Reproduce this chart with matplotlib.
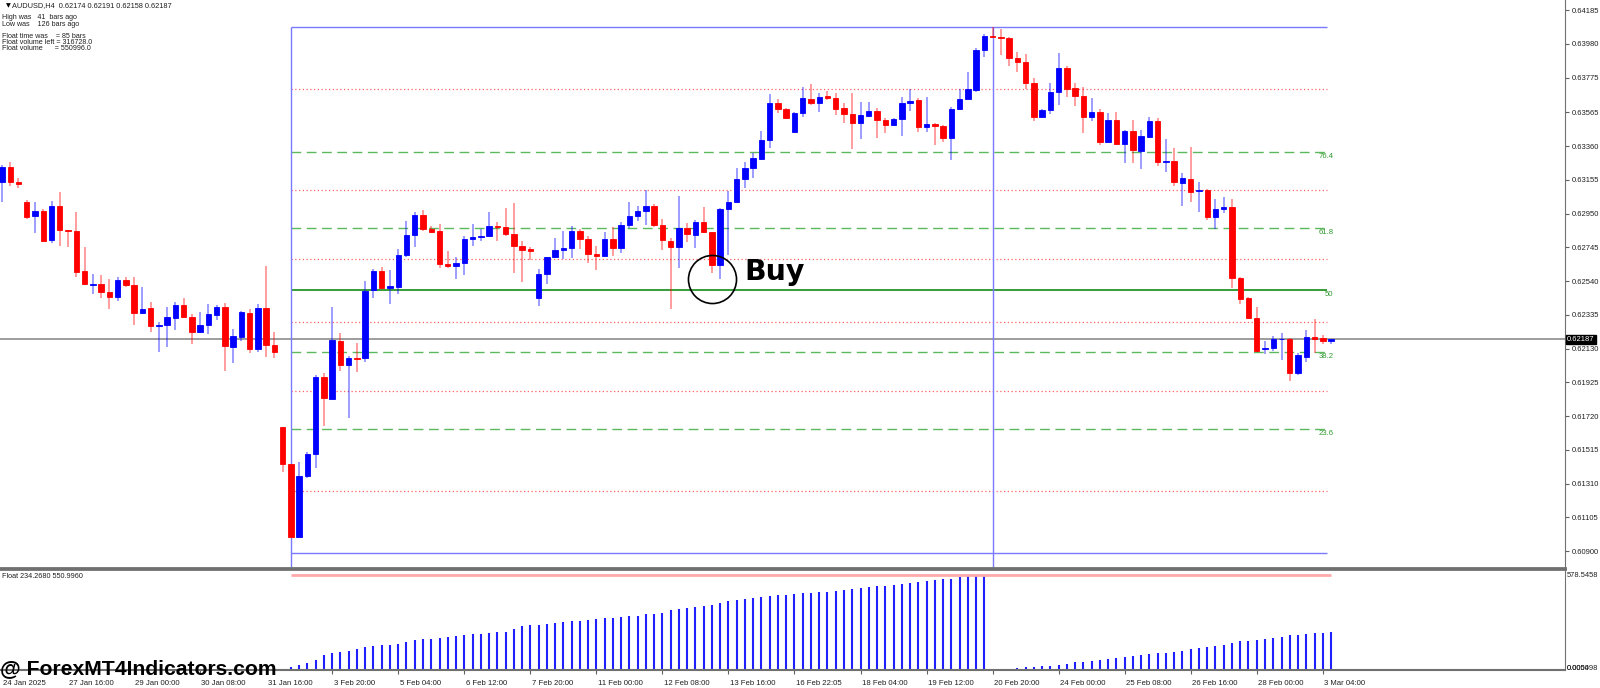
import matplotlib
matplotlib.use('Agg')
import matplotlib.pyplot as plt
from matplotlib.transforms import blended_transform_factory, ScaledTranslation

plt.rcParams['font.family'] = ['Liberation Sans', 'DejaVu Sans']

# ---- candle data (AUDUSD H4) ----
opens = [0.63140, 0.63235, 0.63140, 0.63018, 0.62935, 0.62966, 0.62787, 0.62996, 0.62850, 0.62844,
         0.62601, 0.62518, 0.62524, 0.62474, 0.62441, 0.62545, 0.62518, 0.62344, 0.62375, 0.62267,
         0.62275, 0.62316, 0.62395, 0.62324, 0.62231, 0.62271, 0.62336, 0.62383, 0.62142, 0.62203,
         0.62346, 0.62130, 0.62377, 0.62154, 0.61652, 0.61427, 0.60988, 0.61359, 0.61488, 0.61956,
         0.61827, 0.62177, 0.62031, 0.62075, 0.62071, 0.62486, 0.62604, 0.62501, 0.62505, 0.62701,
         0.62822, 0.62940, 0.62857, 0.62843, 0.62646, 0.62630, 0.62648, 0.62798, 0.62808, 0.62812,
         0.62875, 0.62871, 0.62826, 0.62754, 0.62733, 0.62436, 0.62584, 0.62685, 0.62729, 0.62739,
         0.62843, 0.62796, 0.62705, 0.62695, 0.62798, 0.62741, 0.62881, 0.62936, 0.62968, 0.62996,
         0.62883, 0.62786, 0.62750, 0.62865, 0.62821, 0.62899, 0.62839, 0.62638, 0.62976, 0.63019,
         0.63163, 0.63229, 0.63282, 0.63395, 0.63624, 0.63584, 0.63444, 0.63563, 0.63646, 0.63624,
         0.63665, 0.63650, 0.63590, 0.63553, 0.63499, 0.63545, 0.63573, 0.63519, 0.63490, 0.63525,
         0.63624, 0.63640, 0.63478, 0.63492, 0.63484, 0.63407, 0.63588, 0.63646, 0.63701, 0.63944,
         0.64031, 0.64025, 0.64015, 0.63897, 0.63871, 0.63745, 0.63539, 0.63580, 0.63691, 0.63833,
         0.63713, 0.63667, 0.63539, 0.63569, 0.63383, 0.63519, 0.63373, 0.63452, 0.63333, 0.63418,
         0.63515, 0.63264, 0.63270, 0.63138, 0.63161, 0.63086, 0.63094, 0.62932, 0.62976, 0.62993,
         0.62557, 0.62436, 0.62319, 0.62126, 0.62132, 0.62187, 0.62187, 0.61981, 0.62082, 0.62199,
         0.62195, 0.62174]
highs = [0.63245, 0.63265, 0.63164, 0.63032, 0.63022, 0.62976, 0.63028, 0.63079, 0.62850, 0.62962,
         0.62745, 0.62583, 0.62577, 0.62551, 0.62563, 0.62565, 0.62563, 0.62502, 0.62411, 0.62294,
         0.62385, 0.62411, 0.62437, 0.62338, 0.62350, 0.62399, 0.62395, 0.62405, 0.62249, 0.62358,
         0.62373, 0.62401, 0.62630, 0.62231, 0.61652, 0.61427, 0.61440, 0.61502, 0.61970, 0.61980,
         0.62381, 0.62223, 0.62086, 0.62165, 0.62541, 0.62616, 0.62624, 0.62608, 0.62733, 0.62905,
         0.62962, 0.62970, 0.62877, 0.62885, 0.62723, 0.62685, 0.62812, 0.62885, 0.62859, 0.62960,
         0.62899, 0.62982, 0.63013, 0.62786, 0.62747, 0.62612, 0.62689, 0.62802, 0.62845, 0.62875,
         0.62857, 0.62816, 0.62754, 0.62839, 0.62871, 0.62899, 0.63021, 0.62996, 0.63094, 0.63009,
         0.62916, 0.62800, 0.63059, 0.62895, 0.62912, 0.62989, 0.62839, 0.62982, 0.63088, 0.63229,
         0.63266, 0.63316, 0.63452, 0.63677, 0.63644, 0.63594, 0.63569, 0.63717, 0.63737, 0.63681,
         0.63695, 0.63685, 0.63624, 0.63681, 0.63630, 0.63626, 0.63594, 0.63533, 0.63533, 0.63660,
         0.63705, 0.63650, 0.63656, 0.63499, 0.63488, 0.63596, 0.63705, 0.63808, 0.63954, 0.64041,
         0.64081, 0.64070, 0.64025, 0.63930, 0.63920, 0.63772, 0.63586, 0.63741, 0.63924, 0.63847,
         0.63741, 0.63717, 0.63650, 0.63584, 0.63563, 0.63569, 0.63458, 0.63519, 0.63458, 0.63539,
         0.63529, 0.63401, 0.63347, 0.63195, 0.63357, 0.63144, 0.63098, 0.63039, 0.63049, 0.63039,
         0.62568, 0.62446, 0.62381, 0.62179, 0.62207, 0.62223, 0.62193, 0.62102, 0.62244, 0.62308,
         0.62215, 0.62191]
lows = [0.63022, 0.63119, 0.63107, 0.62915, 0.62830, 0.62781, 0.62769, 0.62753, 0.62749, 0.62567,
        0.62516, 0.62462, 0.62435, 0.62369, 0.62421, 0.62506, 0.62271, 0.62338, 0.62233, 0.62107,
        0.62138, 0.62243, 0.62316, 0.62156, 0.62227, 0.62217, 0.62304, 0.61996, 0.62045, 0.62178,
        0.62105, 0.62107, 0.62081, 0.62075, 0.61383, 0.60985, 0.60982, 0.61346, 0.61407, 0.61660,
        0.61822, 0.61997, 0.61711, 0.61986, 0.62051, 0.62438, 0.62494, 0.62403, 0.62460, 0.62689,
        0.62749, 0.62845, 0.62837, 0.62622, 0.62618, 0.62555, 0.62575, 0.62754, 0.62786, 0.62806,
        0.62786, 0.62816, 0.62588, 0.62537, 0.62669, 0.62389, 0.62525, 0.62683, 0.62675, 0.62683,
        0.62737, 0.62648, 0.62606, 0.62693, 0.62695, 0.62713, 0.62861, 0.62905, 0.62881, 0.62867,
        0.62729, 0.62369, 0.62618, 0.62780, 0.62744, 0.62831, 0.62588, 0.62551, 0.62699, 0.63013,
        0.63104, 0.63165, 0.63276, 0.63347, 0.63563, 0.63523, 0.63442, 0.63535, 0.63608, 0.63569,
        0.63640, 0.63549, 0.63503, 0.63343, 0.63403, 0.63539, 0.63412, 0.63438, 0.63482, 0.63422,
        0.63575, 0.63448, 0.63444, 0.63367, 0.63383, 0.63276, 0.63580, 0.63644, 0.63691, 0.63903,
        0.64015, 0.63913, 0.63849, 0.63812, 0.63705, 0.63515, 0.63533, 0.63555, 0.63608, 0.63660,
        0.63604, 0.63442, 0.63513, 0.63367, 0.63377, 0.63367, 0.63260, 0.63256, 0.63221, 0.63412,
        0.63239, 0.63201, 0.63120, 0.62999, 0.63023, 0.62958, 0.62912, 0.62857, 0.62952, 0.62497,
        0.62402, 0.62310, 0.62108, 0.62096, 0.62118, 0.62062, 0.61934, 0.61970, 0.62051, 0.62102,
        0.62160, 0.62158]
closes = [0.63235, 0.63144, 0.63132, 0.62931, 0.62966, 0.62785, 0.62996, 0.62848, 0.62842, 0.62595,
          0.62520, 0.62524, 0.62476, 0.62445, 0.62547, 0.62518, 0.62344, 0.62371, 0.62265, 0.62275,
          0.62320, 0.62395, 0.62320, 0.62231, 0.62271, 0.62338, 0.62381, 0.62146, 0.62205, 0.62350,
          0.62130, 0.62377, 0.62154, 0.62107, 0.61427, 0.60988, 0.61359, 0.61488, 0.61956, 0.61828,
          0.62183, 0.62031, 0.62075, 0.62067, 0.62482, 0.62604, 0.62499, 0.62509, 0.62701, 0.62820,
          0.62940, 0.62857, 0.62841, 0.62646, 0.62630, 0.62648, 0.62798, 0.62806, 0.62814, 0.62873,
          0.62869, 0.62828, 0.62754, 0.62729, 0.62721, 0.62584, 0.62685, 0.62731, 0.62739, 0.62843,
          0.62798, 0.62703, 0.62695, 0.62798, 0.62741, 0.62881, 0.62936, 0.62968, 0.62996, 0.62881,
          0.62790, 0.62750, 0.62865, 0.62825, 0.62899, 0.62841, 0.62638, 0.62976, 0.63023, 0.63163,
          0.63229, 0.63286, 0.63395, 0.63624, 0.63584, 0.63529, 0.63563, 0.63650, 0.63624, 0.63658,
          0.63650, 0.63586, 0.63553, 0.63499, 0.63549, 0.63573, 0.63521, 0.63490, 0.63523, 0.63622,
          0.63634, 0.63478, 0.63497, 0.63482, 0.63407, 0.63588, 0.63646, 0.63707, 0.63944, 0.64031,
          0.64025, 0.64015, 0.63897, 0.63869, 0.63745, 0.63539, 0.63580, 0.63691, 0.63833, 0.63707,
          0.63665, 0.63539, 0.63569, 0.63383, 0.63519, 0.63373, 0.63452, 0.63337, 0.63422, 0.63515,
          0.63266, 0.63272, 0.63140, 0.63165, 0.63084, 0.63092, 0.62928, 0.62978, 0.62993, 0.62557,
          0.62432, 0.62319, 0.62118, 0.62132, 0.62187, 0.62191, 0.61985, 0.62092, 0.62203, 0.62187,
          0.62174, 0.62187]

# time axis labels, one every 8 bars
time_labels = ['24 Jan 2025', '27 Jan 16:00', '29 Jan 00:00', '30 Jan 08:00', '31 Jan 16:00',
               '3 Feb 20:00', '5 Feb 04:00', '6 Feb 12:00', '7 Feb 20:00', '11 Feb 00:00',
               '12 Feb 08:00', '13 Feb 16:00', '16 Feb 22:05', '18 Feb 04:00', '19 Feb 12:00',
               '20 Feb 20:00', '24 Feb 00:00', '25 Feb 08:00', '26 Feb 16:00', '28 Feb 00:00',
               '3 Mar 04:00']

price_ticks = [0.64185, 0.63980, 0.63775, 0.63565, 0.63360, 0.63155, 0.62950, 0.62745, 0.62540,
               0.62335, 0.62130, 0.61925, 0.61720, 0.61515, 0.61310, 0.61105, 0.60900]

# float indicator levels
low_bar = 35
high_bar = 120
float_high = 0.64081
float_low = 0.60890
fib_names = ['23.6', '38.2', '50', '61.8', '76.4']
fib_prices = [0.61644, 0.62108, 0.62486, 0.62861, 0.63326]
dotted_prices = [0.61266, 0.61875, 0.62294, 0.62672, 0.63093, 0.63705]
last_price = 0.62187

# float histogram (lower window), bars 35..161
float_vals = [18.3, 30.5, 42.8, 59.0, 89.6, 101.8, 109.9, 116.1, 128.3, 138.4,
              146.6, 150.7, 154.7, 160.8, 169.0, 181.2, 187.3, 191.4, 197.5, 201.6,
              207.7, 213.8, 217.9, 221.9, 228.0, 232.1, 234.1, 250.4, 268.8, 272.8,
              274.9, 278.9, 285.0, 293.2, 299.3, 301.3, 305.4, 311.5, 315.6, 319.7,
              323.7, 327.8, 331.9, 340.0, 344.1, 348.2, 364.4, 372.6, 376.7, 382.8,
              388.9, 395.0, 407.2, 419.4, 427.6, 431.6, 437.7, 447.9, 454.0, 456.1,
              458.1, 462.2, 468.3, 472.4, 476.4, 478.5, 482.5, 488.6, 494.7, 500.9,
              507.0, 511.0, 515.1, 521.2, 523.3, 529.4, 535.5, 543.6, 547.7, 553.8,
              557.9, 566.0, 572.1, 576.2, 578.5458,
              0.0,
              3.8, 3.8, 9.6, 15.4, 21.1, 25.0, 26.9, 32.6, 38.4, 46.1,
              49.9, 55.7, 61.4, 65.3, 71.0, 76.8, 86.4, 92.2, 96.0, 101.8,
              105.6, 111.4, 117.1, 130.6, 134.4, 138.2, 144.0, 149.8, 165.1, 174.7,
              178.6, 184.3, 188.2, 193.9, 203.5, 211.2, 215.0, 218.9, 226.6, 228.5,
              234.268]
float_max = 578.5458
float_min = 0.005498

n = len(opens)
xs = list(range(n))

fig = plt.figure(figsize=(16, 6.88), dpi=100)
ax = fig.add_axes([0, 1 - 568 / 688, 1565 / 1600, 568 / 688])
ax2 = fig.add_axes([0, 1 - 670 / 688, 1565 / 1600, 101 / 688])

xlim = (-0.24, 189.34)

# ---- main window ----
for i in xs:
    o, h, l, c = opens[i], highs[i], lows[i], closes[i]
    col = '#0000FF' if c >= o else '#FF0000'
    ax.vlines(i, l, h, color=col, alpha=0.45, linewidth=1.2, zorder=3)
    ax.bar(i, c - o, bottom=o, width=0.66, color=col, edgecolor=col, linewidth=0.6, zorder=4)

last_bar = n - 1
ax.axhline(last_price, color='#8c8c8c', linewidth=1.2, zorder=2)

for p in fib_prices:
    if p == fib_prices[2]:
        ax.hlines(p, low_bar, last_bar - 0.5, color='#008000', linewidth=1.1, zorder=2)
    else:
        ax.hlines(p, low_bar, last_bar - 0.5, color='#5cb85c', linewidth=1.0,
                  linestyles=(0, (7, 4)), zorder=2)
for name, p in zip(fib_names, fib_prices):
    ax.text(last_bar + 0.3, p - 0.00006, name, color='#2f9a2f', fontsize=5.6,
            ha='right', va='top', zorder=5)
for p in dotted_prices:
    ax.hlines(p, low_bar, last_bar - 0.5, color='#ff6060', linewidth=0.9,
              linestyles=(0, (1, 2)), zorder=2)

box_col = '#7a7aff'
ax.hlines([float_high, float_low], low_bar, last_bar - 0.5, color=box_col, linewidth=1.0, zorder=2)
ax.vlines([low_bar, high_bar], 0.6, float_high, color=box_col, linewidth=1.0, zorder=2)

# buy marker
ax.plot(86.07, 0.62554, marker='o', markersize=34.6, markerfacecolor='none',
        markeredgecolor='black', markeredgewidth=1.2, zorder=6)
ax.text(89.9, 0.62547, 'Buy', fontsize=20.4, fontweight='bold', family='DejaVu Sans',
        ha='left', va='baseline', color='black', zorder=6)

ax.set_xlim(*xlim)
ax.set_ylim(0.60798, 0.64247)
ax.yaxis.tick_right()
ax.set_yticks(price_ticks)
ax.set_yticklabels(['%.5f' % v for v in price_ticks])
ax.tick_params(axis='y', length=3, width=0.8, color='#606060', labelsize=5.5, pad=1.5,
               labelcolor='#202020')
ax.set_xticks([])
for s in ['top', 'left']:
    ax.spines[s].set_visible(False)
ax.spines['right'].set_color('#707070')
ax.spines['bottom'].set_color('#707070')
ax.spines['bottom'].set_linewidth(2)

tr = blended_transform_factory(ax.transAxes, ax.transData)
ax.text(1.0012, last_price, '%.5f' % last_price, transform=tr, fontsize=5.5, color='white',
        va='center', ha='left', zorder=7,
        bbox=dict(boxstyle='square,pad=0.15', facecolor='black', edgecolor='black'))

# info texts top-left
fig.text(0.0035, 1 - 5.5 / 688, '\u25bc', fontsize=4.5, va='center', ha='left', family='DejaVu Sans')
fig.text(0.0078, 1 - 5.5 / 688, 'AUDUSD,H4  0.62174 0.62191 0.62158 0.62187', fontsize=5.3,
         va='center', ha='left', color='#202020')
info_lines = [('High was   41  bars ago', 17.5), ('Low was    126 bars ago', 24.5),
              ('Float time was    = 85 bars', 36.5), ('Float volume left = 316728.0', 42.5),
              ('Float volume      = 550996.0', 48.5)]
for txt, yy in info_lines:
    fig.text(0.0015, 1 - yy / 688, txt, fontsize=5.1, va='center', ha='left', color='#202020')

# ---- lower window ----
hist_x = xs[low_bar:]
ax2.vlines(hist_x, 0, float_vals, color='#2020ff', linewidth=1.5)
ax2.hlines(float_max, low_bar, last_bar, color='#ffaaaa', linewidth=2.0)
ax2.set_xlim(*xlim)
ax2.set_ylim(0, 617)
ax2.set_yticks([])
ax2.spines['left'].set_visible(False)
for s in ['top', 'right', 'bottom']:
    ax2.spines[s].set_color('#707070')
ax2.spines['top'].set_linewidth(2)
ax2.spines['bottom'].set_linewidth(1.5)

tick_pos = list(range(0, n, 8))
ax2.set_xticks(tick_pos)
ax2.set_xticklabels([''] * len(tick_pos))
ax2.tick_params(axis='x', length=3, width=0.8, color='#606060')
offset = ScaledTranslation(1 / 72, 0, fig.dpi_scale_trans)
trx = blended_transform_factory(ax2.transData, ax2.transAxes)
for pos, lab in zip(tick_pos, time_labels):
    ax2.text(pos, -0.13, lab, transform=trx + offset, fontsize=5.6, ha='left', va='center',
             color='#202020')

tr2 = blended_transform_factory(ax2.transAxes, ax2.transData)
ax2.text(1.0012, float_max, '578.5458', transform=tr2, fontsize=5.4, va='center', ha='left',
         color='#202020')
ax2.text(1.0012, float_min + 12, '0.0000', transform=tr2, fontsize=5.4, va='center', ha='left',
         color='#202020')
ax2.text(1.0012, float_min + 12, '0.005498', transform=tr2, fontsize=5.4, va='center', ha='left',
         color='#202020')
ax2.text(0.0015, 0.93, 'Float 234.2680 550.9960', transform=ax2.transAxes, fontsize=5.2,
         va='center', ha='left', color='#202020')

fig.text(0.0, 1 - 674 / 688, '@ ForexMT4Indicators.com', fontsize=15.2, fontweight='bold',
         ha='left', va='baseline', color='black')

fig.savefig('out.png', dpi=100)
